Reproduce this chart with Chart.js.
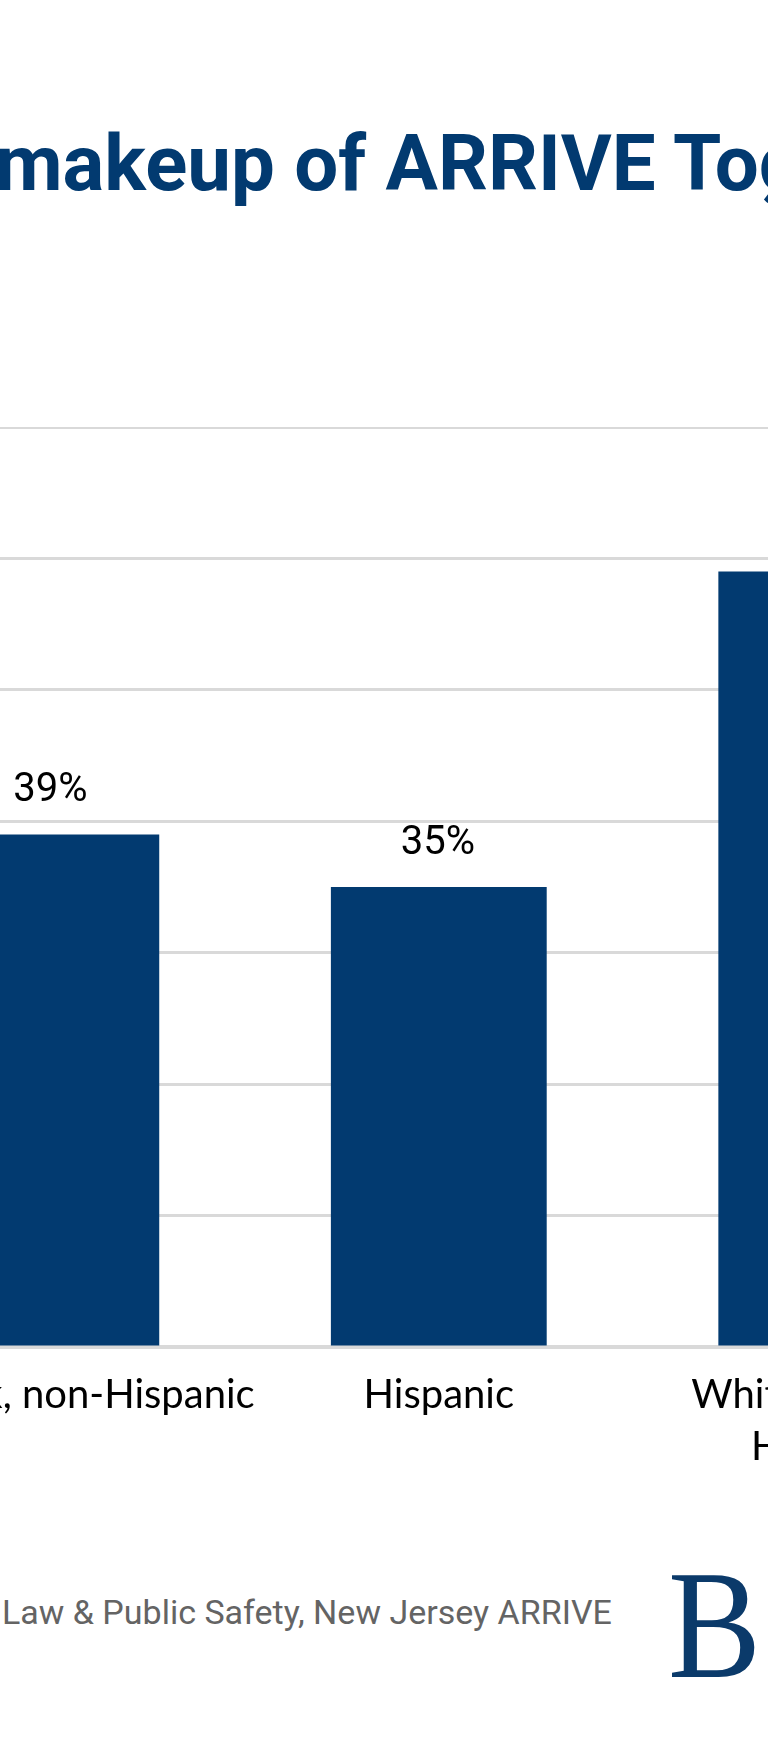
<!DOCTYPE html>
<html>
<head>
<meta charset="utf-8">
<script src="https://cdn.jsdelivr.net/npm/chart.js@4.4.0/dist/chart.umd.min.js"></script>
<style>
  html, body { margin:0; padding:0; background:#fff; width:768px; height:1744px; overflow:hidden; position:relative; }
  #title { position:absolute; top:125px; left:-5px; white-space:nowrap; font-family:Roboto, sans-serif; font-weight:700; font-size:78px; line-height:78px; color:#023a70; }
  #title .pre { position:absolute; right:100%; top:0; }
  #wrap { position:absolute; left:-142px; top:420px; }
  #c { display:block; }
  #source { position:absolute; left:2px; top:1595px; white-space:nowrap; font-family:Roboto, sans-serif; font-size:34px; line-height:34px; color:#646464; }
  #source .pre { position:absolute; right:100%; top:0; }
  #logo { position:absolute; left:668px; top:1548px; font-family:'Liberation Serif', serif; font-size:155px; line-height:155px; color:#0b3a6a; transform:scaleX(0.9); transform-origin:left top; }
</style>
</head>
<body>
<div id="title"><span class="pre">Racial&nbsp;</span>makeup of ARRIVE Together participants</div>
<div id="wrap"><canvas id="c" width="1164" height="1070"></canvas></div>
<div id="source"><span class="pre">Source: New Jersey Department of&nbsp;</span>Law &amp; Public Safety, New Jersey ARRIVE</div>
<div id="logo">B</div>
<script>
const categories = ["Black, non-Hispanic", "Hispanic", ["White, non-", "Hispanic"]];
const shares = [39, 35, 59];
const yTicks = [0, 10, 20, 30, 40, 50, 60, 70];

// spacing used only to reproduce the label placement of the original
const lead = ['\u2002\u2002  ', '', ''];
const trail = ['', '', '\u2002\u2002\u2002'];

// where the plot area sits on the page (the original is a cropped view)
const AREA = { left: -142, top: 426.5, width: 1164, height: 920.2 };

const valueLabels = {
  id: 'valueLabels',
  afterDatasetsDraw(chart) {
    const ctx = chart.ctx;
    const meta = chart.getDatasetMeta(0);
    ctx.save();
    ctx.font = '40px Roboto';
    ctx.fillStyle = '#000';
    ctx.textAlign = 'center';
    ctx.textBaseline = 'alphabetic';
    meta.data.forEach((bar, i) => {
      ctx.fillText(shares[i] + '%', bar.x - 1, bar.y - 33.5);
    });
    ctx.restore();
  }
};

const chart = new Chart(document.getElementById('c'), {
  type: 'bar',
  data: {
    labels: categories,
    datasets: [{
      data: shares,
      backgroundColor: '#023a70',
      barPercentage: 0.557,
      categoryPercentage: 1
    }]
  },
  options: {
    responsive: false,
    maintainAspectRatio: false,
    animation: false,
    devicePixelRatio: 1,
    layout: { autoPadding: false, padding: 0 },
    plugins: { legend: { display: false }, tooltip: { enabled: false }, title: { display: false } },
    scales: {
      x: {
        grid: { display: false, drawTicks: false },
        border: { display: true, color: '#d9d9d9', width: 4 },
        ticks: {
          font: { family: 'Lato', size: 40, lineHeight: 1.3 },
          color: '#000',
          padding: 22,
          maxRotation: 0,
          minRotation: 0,
          autoSkip: false,
          callback: function (value, index) {
            const lab = categories[index];
            if (Array.isArray(lab)) {
              return lab.map((l, j) => j === 0 ? lead[index] + l + trail[index] : l);
            }
            return lead[index] + lab + trail[index];
          }
        }
      },
      y: {
        min: yTicks[0],
        max: yTicks[yTicks.length - 1],
        afterBuildTicks: (axis) => { axis.ticks = yTicks.map(v => ({ value: v })); },
        grid: { color: '#d9d9d9', lineWidth: 3, drawTicks: false },
        border: { display: false },
        ticks: { display: false }
      }
    }
  },
  plugins: [valueLabels]
});

// size the canvas so the plot area has the wanted size, then place it
(function place() {
  for (let k = 0; k < 2; k++) {
    const a = chart.chartArea;
    const w = Math.round(chart.width + AREA.width - (a.right - a.left));
    const h = Math.round(chart.height + AREA.height - (a.bottom - a.top));
    chart.resize(w, h);
  }
  const b = chart.chartArea;
  const wrap = document.getElementById('wrap');
  wrap.style.left = (AREA.left - b.left) + 'px';
  wrap.style.top = (AREA.top - b.top) + 'px';
})();
</script>
</body>
</html>
